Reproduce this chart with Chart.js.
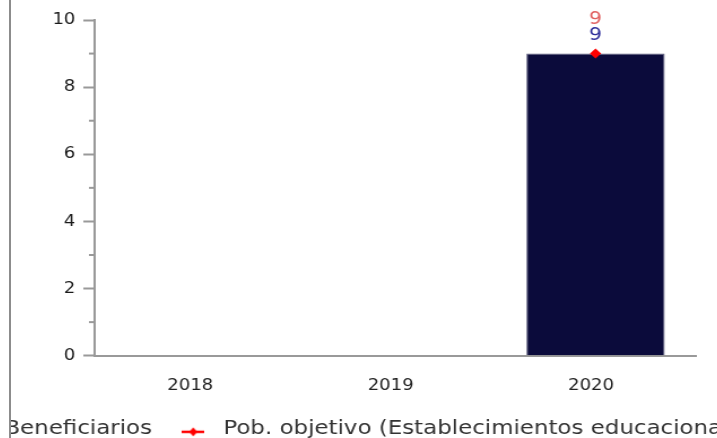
<!DOCTYPE html>
<html><head><meta charset="utf-8">
<script src="https://cdn.jsdelivr.net/npm/chart.js@4"></script>
<style>
html,body{margin:0;padding:0;overflow:hidden;background:#fff;width:717px;height:438px;}
#frame{position:absolute;left:9px;top:0;width:706px;height:438px;border-left:2px solid #8c8c8c;overflow:hidden;}
#wrap{position:absolute;left:-78px;top:0;width:800px;height:449px;transform:scaleX(1.13);transform-origin:0 0;}
</style></head><body>
<div id="frame"><div id="wrap"><canvas id="c"></canvas></div></div>
<script>
const categories = ['2018', '2019', '2020'];
const beneficiarios = [null, null, 9];
const pobObjetivo = [null, null, 9];
const seriesNames = ['Beneficiarios', 'Pob. objetivo (Establecimientos educacionales)'];
const minorTicks = [1, 3, 5, 7, 9];

const FONT = 'DejaVu Sans';
const AXIS = '#999999';

// legend marker: red line with diamond
const marker = document.createElement('canvas');
marker.width = 20; marker.height = 18;
(function(){
  const m = marker.getContext('2d');
  const cy = 12;
  m.strokeStyle = '#ff0000'; m.lineWidth = 2.5;
  m.beginPath(); m.moveTo(0, cy); m.lineTo(20, cy); m.stroke();
  m.fillStyle = '#ff0000';
  m.beginPath(); m.moveTo(10, cy - 4.5); m.lineTo(13.5, cy); m.lineTo(10, cy + 4.5); m.lineTo(6.5, cy); m.closePath(); m.fill();
})();

const extras = {
  id: 'extras',
  afterDraw(chart) {
    const ctx = chart.ctx, y = chart.scales.y, left = chart.chartArea.left;
    ctx.save();
    ctx.strokeStyle = AXIS; ctx.lineWidth = 2;
    minorTicks.forEach(v => {
      const py = y.getPixelForValue(v);
      ctx.beginPath(); ctx.moveTo(left - 5, py); ctx.lineTo(left, py); ctx.stroke();
    });
    ctx.restore();
  },
  afterDatasetsDraw(chart) {
    const ctx = chart.ctx;
    const barMeta = chart.getDatasetMeta(0), lineMeta = chart.getDatasetMeta(1);
    ctx.save();
    ctx.font = '18px "' + FONT + '"';
    ctx.textAlign = 'center'; ctx.textBaseline = 'middle';
    beneficiarios.forEach((v, i) => {
      if (v == null) return;
      const el = barMeta.data[i];
      ctx.fillStyle = '#2e2e9a';
      ctx.fillText(String(v), el.x, el.y - 18);
    });
    pobObjetivo.forEach((v, i) => {
      if (v == null) return;
      const el = lineMeta.data[i];
      ctx.fillStyle = '#e06060';
      ctx.fillText(String(v), el.x, el.y - 34);
    });
    ctx.restore();
  }
};

new Chart(document.getElementById('c'), {
  type: 'bar',
  data: {
    labels: categories,
    datasets: [
      { type: 'bar', label: seriesNames[0], data: beneficiarios, backgroundColor: '#0b0b3b',
        borderColor: '#5d5d7e', borderWidth: 1, barPercentage: 0.69, categoryPercentage: 1, order: 1 },
      { type: 'line', label: seriesNames[1], data: pobObjetivo, borderColor: '#ff0000', backgroundColor: '#ff0000',
        pointStyle: 'rectRot', pointRadius: 5, pointBorderWidth: 0, borderWidth: 2, order: 0 }
    ]
  },
  options: {
    responsive: true, maintainAspectRatio: false, animation: false,
    layout: { padding: { top: 20, left: 0, right: 0, bottom: 0 } },
    scales: {
      x: {
        grid: { display: false },
        border: { color: AXIS, width: 2 },
        ticks: { font: { family: FONT, size: 16 }, color: '#222', padding: 13, labelOffset: -4 },
        afterFit(s) { s.height = 43; }
      },
      y: {
        min: 0, max: 10,
        ticks: { stepSize: 2, font: { family: FONT, size: 16 }, color: '#1a1a1a', padding: 7 },
        grid: { drawOnChartArea: false, tickLength: 10, tickColor: AXIS, tickWidth: 2, color: AXIS },
        border: { color: AXIS, width: 2 },
        afterFit(s) { s.width = 143; }
      },
      yR: {
        position: 'right', display: true,
        grid: { display: false }, border: { display: false }, ticks: { display: false },
        afterFit(s) { s.width = 125; }
      }
    },
    plugins: {
      tooltip: { enabled: false },
      legend: {
        position: 'bottom', align: 'start',
        labels: {
          font: { family: FONT, size: 20.3 }, color: '#333', padding: 20,
          usePointStyle: true, pointStyleWidth: 33,
          sort: (a, b) => a.datasetIndex - b.datasetIndex,
          generateLabels(chart) {
            const items = Chart.defaults.plugins.legend.labels.generateLabels(chart);
            items.forEach(it => {
              if (it.datasetIndex === 0) { it.pointStyle = 'rect'; it.fillStyle = '#0b0b3b'; it.strokeStyle = '#0b0b3b'; }
              else { it.pointStyle = marker; }
            });
            return items;
          }
        }
      }
    }
  },
  plugins: [extras]
});
</script>
</body></html>
